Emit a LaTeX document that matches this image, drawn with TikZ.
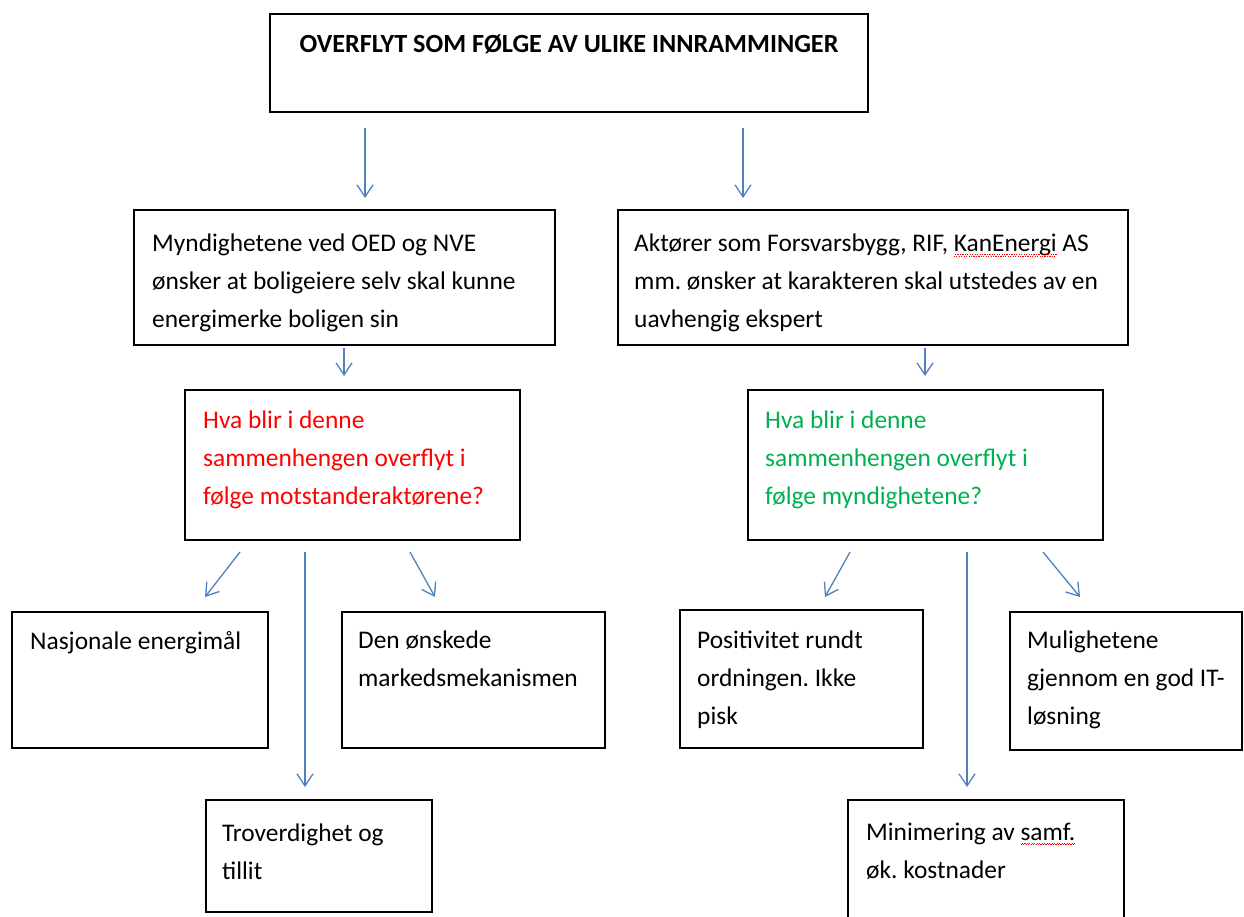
\documentclass[tikz,border=0pt]{standalone}
\usepackage{fontspec}
\setmainfont{Carlito}
\usetikzlibrary{arrows.meta}
\definecolor{arrblue}{RGB}{79,129,189}
\definecolor{qred}{RGB}{255,0,0}
\definecolor{qgreen}{RGB}{0,176,80}
\frenchspacing
\newcommand\spellerr[1]{\leavevmode\setbox0\hbox{#1}\rlap{\copy0}\hbox to \wd0{\color{red}\xleaders\hbox{\rule[-4.6pt]{1.2pt}{0.9pt}\rule[-3.4pt]{1.2pt}{0.9pt}}\hfil}}
\begin{document}
\begin{tikzpicture}[x=1pt,y=-1pt,
  box/.style={draw,line width=1.6pt,anchor=north west,inner sep=0pt,outer sep=0pt},
  txt/.style={anchor=north west,align=left,inner sep=0pt,font=\fontsize{25.4}{38}\selectfont},
  arr/.style={arrblue,line width=1.3pt,-{Straight Barb[length=12pt,width=16pt]}}]
\useasboundingbox (0,0) rectangle (1244,916);
% boxes
\node[box,minimum width=598pt,minimum height=98pt] (title) at (270,14) {};
\node[box,minimum width=421pt,minimum height=135pt] (L1) at (134,210) {};
\node[box,minimum width=510pt,minimum height=135pt] (R1) at (618,210) {};
\node[box,minimum width=335pt,minimum height=150pt] (red) at (185,390) {};
\node[box,minimum width=355pt,minimum height=150pt] (green) at (748,390) {};
\node[box,minimum width=256pt,minimum height=136pt] (nasj) at (12,612) {};
\node[box,minimum width=263pt,minimum height=136pt] (den) at (342,612) {};
\node[box,minimum width=226pt,minimum height=112pt] (trov) at (206,800) {};
\node[box,minimum width=243pt,minimum height=138pt] (pos) at (680,610) {};
\node[box,minimum width=232pt,minimum height=138pt] (mul) at (1010,612) {};
\node[box,minimum width=276pt,minimum height=130pt] (min) at (848,800) {};
% texts
\node[anchor=base,inner sep=0pt,font=\fontsize{26.2}{30}\selectfont\bfseries] (titlet) at (569,52) {OVERFLYT SOM FØLGE AV ULIKE INNRAMMINGER};
\node[txt] (L1t) at (152,234) {Myndighetene ved OED og NVE\\ønsker at boligeiere selv skal kunne\\energimerke boligen sin};
\node[txt] (R1t) at (634,234) {Aktører som Forsvarsbygg, RIF, \spellerr{KanEnergi} AS\\mm. ønsker at karakteren skal utstedes av en\\uavhengig ekspert};
\node[txt,text=qred] (redt) at (203,411) {Hva blir i denne\\sammenhengen overflyt i\\følge motstanderaktørene?};
\node[txt,text=qgreen] (greent) at (765,411) {Hva blir i denne\\sammenhengen overflyt i\\følge myndighetene?};
\node[txt] (nasjt) at (30,631) {Nasjonale energimål};
\node[txt] (dent) at (358,631) {Den ønskede\\markedsmekanismen};
\node[txt] (trovt) at (222,824) {Troverdighet og\\tillit};
\node[txt] (post) at (697,631) {Positivitet rundt\\ordningen. Ikke\\pisk};
\node[txt] (mult) at (1027,631) {Mulighetene\\gjennom en god IT-\\løsning};
\node[txt] (mint) at (866,823) {Minimering av \spellerr{samf.}\\øk. kostnader};
% connectors
\draw[arr,shorten <=16pt,shorten >=12pt] ([xshift=95pt]title.south west) -- ([xshift=95pt]title.south west |- L1.north);
\draw[arr,shorten <=16pt,shorten >=12pt] ([xshift=473pt]title.south west) -- ([xshift=473pt]title.south west |- R1.north);
\draw[arr,shorten <=3pt,shorten >=14pt] ([xshift=210pt]L1.south west) -- ([xshift=210pt]L1.south west |- red.north);
\draw[arr,shorten <=3pt,shorten >=14pt] ([xshift=307pt]R1.south west) -- ([xshift=307pt]R1.south west |- green.north);
\coordinate (a5s) at (240,552); \coordinate (a5e) at (205,597);
\coordinate (a6s) at (305,552); \coordinate (a6e) at (305,787);
\coordinate (a7s) at (410,552); \coordinate (a7e) at (435,597);
\coordinate (a8s) at (850,552); \coordinate (a8e) at (825,597);
\coordinate (a9s) at (967,552); \coordinate (a9e) at (967,787);
\coordinate (a10s) at (1043,552); \coordinate (a10e) at (1080,597);
\draw[arr] (a5s) -- (a5e);
\draw[arr] (a6s) -- (a6e);
\draw[arr] (a7s) -- (a7e);
\draw[arr] (a8s) -- (a8e);
\draw[arr] (a9s) -- (a9e);
\draw[arr] (a10s) -- (a10e);
\end{tikzpicture}
\end{document}
